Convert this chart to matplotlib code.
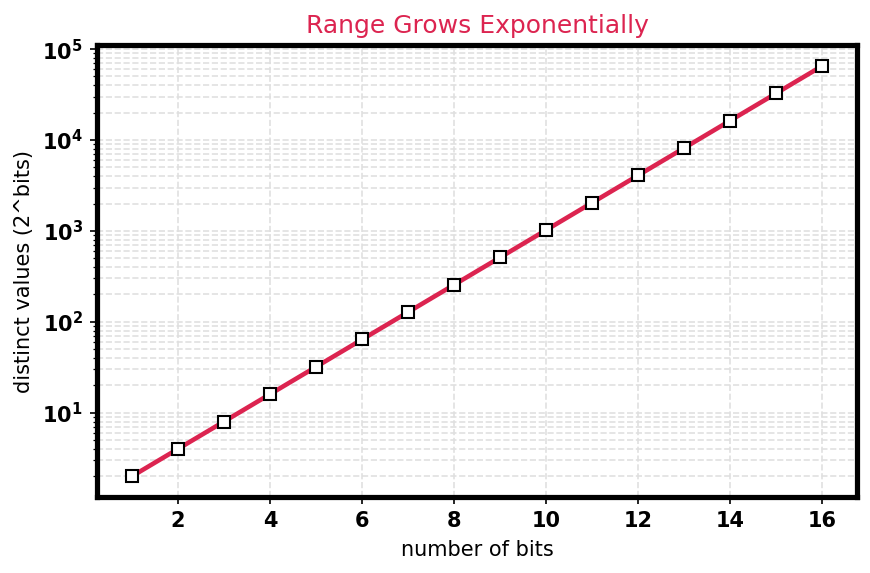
import matplotlib
matplotlib.use("Agg")
import matplotlib.pyplot as plt
import numpy as np

bits = [1, 2, 3, 4, 5, 6, 7, 8, 9, 10, 11, 12, 13, 14, 15, 16]
values = [2, 4, 8, 16, 32, 64, 128, 256, 512, 1024, 2048, 4096, 8192, 16384, 32768, 65536]

fig, ax = plt.subplots(figsize=(5.8, 3.82), dpi=150)
ax.plot(bits, values, color='#dc2450', linewidth=2.2, marker='s', markersize=6,
        markerfacecolor='white', markeredgecolor='black', markeredgewidth=1.0)
ax.set_yscale('log')
ax.set_title('Range Grows Exponentially', color='#dc2450', fontsize=12)
ax.set_xlabel('number of bits', fontsize=10)
ax.set_ylabel('distinct values (2^bits)', fontsize=10)
ax.grid(True, which='major', axis='x', linestyle='--', color='#e0e0e0', linewidth=0.8)
ax.grid(True, which='both', axis='y', linestyle='--', color='#e0e0e0', linewidth=0.8)
ax.set_xticks([2, 4, 6, 8, 10, 12, 14, 16])
for lab in ax.get_xticklabels() + ax.get_yticklabels():
    lab.set_fontweight('bold')
ax.tick_params(labelsize=10)
for s in ax.spines.values():
    s.set_linewidth(2.5)
fig.subplots_adjust(left=0.112, right=0.985, top=0.921, bottom=0.133)
fig.savefig('out.png', dpi=150)
